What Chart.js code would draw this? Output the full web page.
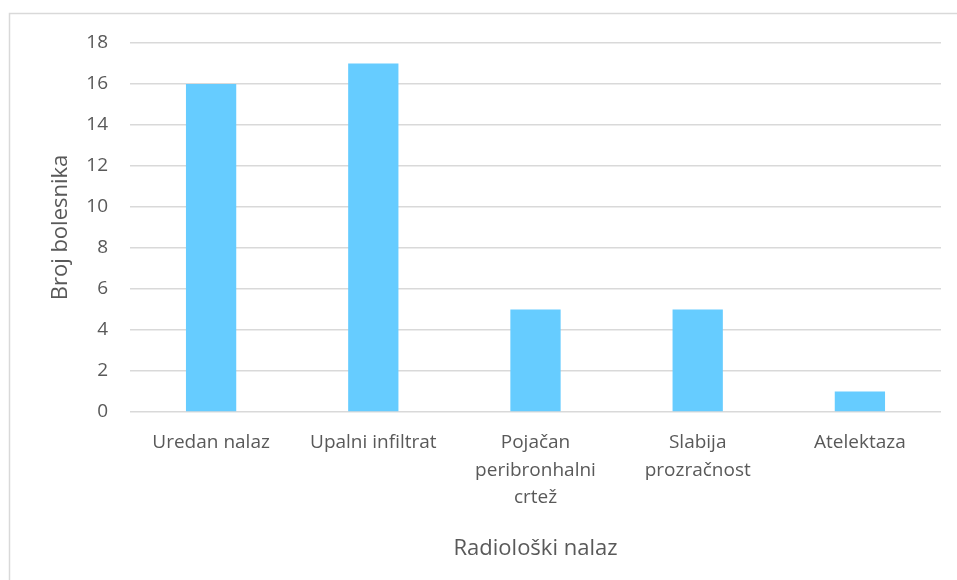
<!DOCTYPE html>
<html>
<head>
<meta charset="utf-8">
<script src="https://cdn.jsdelivr.net/npm/chart.js@4"></script>
<style>
  body { margin: 0; background: #fff; }
  #wrap { position: relative; width: 957px; height: 580px; }
</style>
</head>
<body>
<div id="wrap"><canvas id="nalazChart"></canvas></div>
<script>
const categories = [
    'Uredan nalaz',
    'Upalni infiltrat',
    ['Pojačan', 'peribronhalni', 'crtež'],
    ['Slabija', 'prozračnost'],
    'Atelektaza'
];
const patients = [16, 17, 5, 5, 1];
const yTicks = [0, 2, 4, 6, 8, 10, 12, 14, 16, 18];

const frame = {
    id: 'frame',
    beforeDraw(chart) {
        const c = chart.ctx;
        c.save();
        c.fillStyle = '#fff';
        c.fillRect(0, 0, chart.width, chart.height);
        c.strokeStyle = '#d9d9d9';
        c.lineWidth = 1.5;
        c.strokeRect(9.5, 13.5, 1200, 1200);
        c.restore();
    }
};

const ctx = document.getElementById('nalazChart').getContext('2d');
new Chart(ctx, {
    type: 'bar',
    data: {
        labels: categories,
        datasets: [{
            data: patients,
            backgroundColor: '#66ccff',
            borderWidth: 0,
            barPercentage: 0.31,
            categoryPercentage: 1
        }]
    },
    options: {
        responsive: true,
        maintainAspectRatio: false,
        animation: false,
        layout: { padding: { left: 48, right: 16, top: 43, bottom: 18 } },
        plugins: {
            legend: { display: false },
            tooltip: { enabled: false }
        },
        scales: {
            x: {
                grid: { display: false },
                border: { display: false },
                ticks: {
                    color: '#595959',
                    font: { family: 'Open Sans', size: 19, lineHeight: 1.45 },
                    padding: 9,
                    maxRotation: 0,
                    autoSkip: false
                },
                title: {
                    display: true,
                    text: 'Radiološki nalaz',
                    color: '#595959',
                    font: { family: 'Open Sans', size: 22 },
                    padding: { top: 4, bottom: 0 }
                },
                afterFit(scale) { scale.height = 150; }
            },
            y: {
                min: 0,
                max: 18,
                afterBuildTicks(scale) { scale.ticks = yTicks.map(v => ({ value: v })); },
                grid: { color: '#d9d9d9', lineWidth: 1.5, drawTicks: false },
                border: { display: false },
                ticks: {
                    color: '#595959',
                    font: { family: 'Open Sans', size: 19 },
                    padding: 22
                },
                title: {
                    display: true,
                    text: 'Broj bolesnika',
                    color: '#595959',
                    font: { family: 'Open Sans', size: 22 },
                    padding: 0
                },
                afterFit(scale) { scale.width = 82; }
            }
        }
    },
    plugins: [frame]
});
</script>
</body>
</html>
